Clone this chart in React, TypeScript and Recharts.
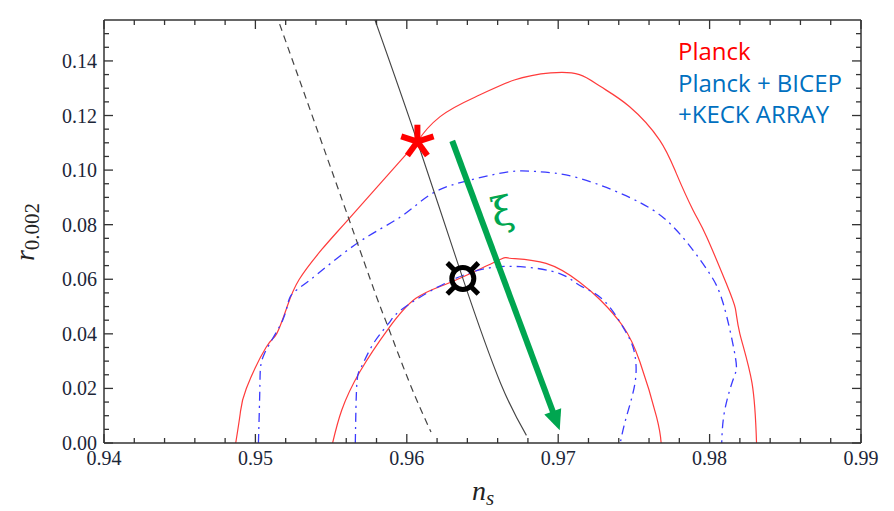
import React from "react";
import { ComposedChart, Line, XAxis, YAxis, ReferenceLine, ReferenceDot } from "recharts";

// contour points as [n_s, r]
const planck95 = [
  [0.9487, 0], [0.949, 0.0109], [0.9494, 0.02], [0.9507, 0.035], [0.9514, 0.04], [0.9521, 0.05],
  [0.9529, 0.06], [0.9544, 0.071], [0.9561, 0.0817], [0.96, 0.106], [0.9607, 0.1104],
  [0.9622, 0.1196], [0.9648, 0.1275], [0.9671, 0.133], [0.9695, 0.1356], [0.9714, 0.135], [0.9728, 0.1306],
  [0.9747, 0.1233], [0.9767, 0.111], [0.9778, 0.0988], [0.9789, 0.0854], [0.9798, 0.0756], [0.9811, 0.0585],
  [0.9817, 0.0493], [0.982, 0.04], [0.9828, 0.022], [0.9831, 0],
];
const planck68 = [
  [0.9551, 0], [0.9557, 0.012], [0.9569, 0.0261], [0.9588, 0.042], [0.9606, 0.053], [0.9625, 0.058],
  [0.9642, 0.0621], [0.9662, 0.0673], [0.9668, 0.0677], [0.9692, 0.0658], [0.9714, 0.059], [0.9728, 0.0523],
  [0.9743, 0.0426], [0.9754, 0.0297], [0.9765, 0.0095], [0.9768, 0],
];
const bkp95 = [
  [0.9502, 0], [0.9503, 0.0218], [0.9506, 0.0328], [0.9518, 0.045], [0.9523, 0.0536], [0.9536, 0.0597],
  [0.9567, 0.0731], [0.9596, 0.0829], [0.9617, 0.0915], [0.9642, 0.0964], [0.9668, 0.0994], [0.9685, 0.0995],
  [0.9714, 0.097], [0.9755, 0.0878], [0.9776, 0.0792], [0.9789, 0.0707], [0.98, 0.0621], [0.9809, 0.0511],
  [0.9817, 0.0315], [0.9816, 0.024], [0.981, 0.012], [0.9808, 0],
];
const bkp68 = [
  [0.9566, 0], [0.9567, 0.0218], [0.957, 0.0279], [0.9578, 0.0365], [0.9588, 0.0438], [0.9596, 0.0487],
  [0.962, 0.057], [0.9648, 0.0634], [0.9675, 0.0646], [0.9701, 0.0621], [0.9714, 0.0578], [0.973, 0.0523],
  [0.9744, 0.0413], [0.975, 0.034], [0.9751, 0.023], [0.9745, 0.0095], [0.9741, 0],
];
const modelDashed = [
  [0.9516, 0.1535], [0.9562, 0.0817], [0.958, 0.0536], [0.9588, 0.042], [0.9602, 0.0218], [0.9616, 0.004],
];
const modelSolid = [
  [0.9579, 0.155], [0.9607, 0.1104], [0.9637, 0.0603], [0.9662, 0.0218], [0.9679, 0.0028],
];

const arrowFrom = [0.963, 0.1107];
const arrowTo = [0.9701, 0.0047];
const starPoint = [0.9607, 0.1104];
const circlePoint = [0.9637, 0.0603];
const xiPoint = [0.96635, 0.0835];

const xDomain = [0.94, 0.99];
const yDomain = [0, 0.155];
const xMajorTicks = [0.94, 0.95, 0.96, 0.97, 0.98, 0.99];
const yMajorTicks = [0, 0.02, 0.04, 0.06, 0.08, 0.1, 0.12, 0.14];
const xTicks = Array.from({ length: 26 }, (_, i) => +(0.94 + i * 0.002).toFixed(3));
const yTicks = Array.from({ length: 31 }, (_, i) => +(i * 0.005).toFixed(3));

const legendLines = [
  { text: "Planck", color: "#ff0000" },
  { text: "Planck + BICEP", color: "#0070c0" },
  { text: "+KECK ARRAY", color: "#0070c0" },
];

const toPts = (a: number[][]) => a.map(([x, r]) => ({ x, r }));

const AXIS = "#333";
const LABEL = "#1c2638";
const labelFont = "'Liberation Serif', 'Times New Roman', serif";

const isXMajor = (v: number) => xMajorTicks.some((m) => Math.abs(m - v) < 1e-6);
const isYMajor = (v: number) => yMajorTicks.some((m) => Math.abs(m - v) < 1e-6);

const BottomTick = ({ x, y, payload }: any) => {
  const major = isXMajor(payload.value);
  return (
    <g>
      <line x1={x} y1={y} x2={x} y2={y - (major ? 9 : 5)} stroke={AXIS} strokeWidth={1.3} />
      {major && (
        <text x={x} y={y + 22} textAnchor="middle" fontSize={20} fontFamily={labelFont} fill={LABEL}>
          {payload.value.toFixed(2)}
        </text>
      )}
    </g>
  );
};
const TopTick = ({ x, y, payload }: any) => {
  const major = isXMajor(payload.value);
  return <line x1={x} y1={y} x2={x} y2={y + (major ? 9 : 5)} stroke={AXIS} strokeWidth={1.3} />;
};
const LeftTick = ({ x, y, payload }: any) => {
  const major = isYMajor(payload.value);
  return (
    <g>
      <line x1={x} y1={y} x2={x + (major ? 9 : 5)} y2={y} stroke={AXIS} strokeWidth={1.3} />
      {major && (
        <text x={x - 7} y={y + 7} textAnchor="end" fontSize={20} fontFamily={labelFont} fill={LABEL}>
          {payload.value.toFixed(2)}
        </text>
      )}
    </g>
  );
};
const RightTick = ({ x, y, payload }: any) => {
  const major = isYMajor(payload.value);
  return <line x1={x} y1={y} x2={x - (major ? 9 : 5)} y2={y} stroke={AXIS} strokeWidth={1.3} />;
};

const Arrow = ({ x1, y1, x2, y2 }: any) => {
  const dx = x2 - x1;
  const dy = y2 - y1;
  const len = Math.hypot(dx, dy);
  const ux = dx / len;
  const uy = dy / len;
  const head = 20;
  const half = 9;
  const bx = x2 - ux * head;
  const by = y2 - uy * head;
  return (
    <g>
      <line x1={x1} y1={y1} x2={bx + ux * 2} y2={by + uy * 2} stroke="#00a650" strokeWidth={6} />
      <polygon
        points={`${x2},${y2} ${bx - uy * half},${by + ux * half} ${bx + uy * half},${by - ux * half}`}
        fill="#00a650"
      />
    </g>
  );
};

const Star = ({ cx, cy }: any) => (
  <g>
    {[0, 72, 144, 216, 288].map((a) => {
      const t = (a * Math.PI) / 180;
      return (
        <line key={a} x1={cx} y1={cy} x2={cx + 17 * Math.sin(t)} y2={cy - 17 * Math.cos(t)} stroke="#ff0000" strokeWidth={6} />
      );
    })}
  </g>
);

const Currency = ({ cx, cy }: any) => (
  <g>
    <circle cx={cx} cy={cy} r={11} fill="none" stroke="#000" strokeWidth={5} />
    {[45, 135, 225, 315].map((a) => {
      const t = (a * Math.PI) / 180;
      return (
        <line
          key={a}
          x1={cx + 12 * Math.cos(t)}
          y1={cy + 12 * Math.sin(t)}
          x2={cx + 22 * Math.cos(t)}
          y2={cy + 22 * Math.sin(t)}
          stroke="#000"
          strokeWidth={5}
        />
      );
    })}
  </g>
);

const Xi = ({ cx, cy }: any) => (
  <text
    x={cx}
    y={cy + 10}
    textAnchor="middle"
    fontSize={40}
    fontFamily="'DejaVu Serif', serif"
    fill="#00a650"
    transform={`rotate(-12 ${cx} ${cy})`}
  >
    ξ
  </text>
);

const axisLine = { stroke: AXIS, strokeWidth: 1.5 };

export default function App() {
  return (
    <div style={{ position: "absolute", left: 0, top: 0, width: 894, height: 511, background: "#fff" }}>
      <ComposedChart width={894} height={511} margin={{ top: 19, right: 32, bottom: 67, left: 103 }}>
        <XAxis xAxisId="b" dataKey="x" type="number" domain={xDomain} ticks={xTicks} interval={0}
          tick={(p: any) => <BottomTick {...p} />} tickSize={0} tickMargin={0} height={1} axisLine={axisLine} allowDataOverflow />
        <XAxis xAxisId="t" orientation="top" dataKey="x" type="number" domain={xDomain} ticks={xTicks} interval={0}
          tick={(p: any) => <TopTick {...p} />} tickSize={0} tickMargin={0} height={1} axisLine={axisLine} allowDataOverflow />
        <YAxis yAxisId="l" dataKey="r" type="number" domain={yDomain} ticks={yTicks} interval={0}
          tick={(p: any) => <LeftTick {...p} />} tickSize={0} tickMargin={0} width={1} axisLine={axisLine} allowDataOverflow />
        <YAxis yAxisId="rt" orientation="right" dataKey="r" type="number" domain={yDomain} ticks={yTicks} interval={0}
          tick={(p: any) => <RightTick {...p} />} tickSize={0} tickMargin={0} width={1} axisLine={axisLine} allowDataOverflow />

        <Line xAxisId="b" yAxisId="l" data={toPts(planck95)} dataKey="r" type="natural" stroke="#ff3b3b" strokeWidth={1.2} dot={false} isAnimationActive={false} />
        <Line xAxisId="b" yAxisId="l" data={toPts(planck68)} dataKey="r" type="natural" stroke="#ff3b3b" strokeWidth={1.2} dot={false} isAnimationActive={false} />
        <Line xAxisId="b" yAxisId="l" data={toPts(bkp95)} dataKey="r" type="natural" stroke="#3a3aff" strokeWidth={1.3} strokeDasharray="9 5 2 5" dot={false} isAnimationActive={false} />
        <Line xAxisId="b" yAxisId="l" data={toPts(bkp68)} dataKey="r" type="natural" stroke="#3a3aff" strokeWidth={1.3} strokeDasharray="9 5 2 5" dot={false} isAnimationActive={false} />
        <Line xAxisId="b" yAxisId="l" data={toPts(modelDashed)} dataKey="r" type="natural" stroke="#444" strokeWidth={1.2} strokeDasharray="7 5" dot={false} isAnimationActive={false} />
        <Line xAxisId="b" yAxisId="l" data={toPts(modelSolid)} dataKey="r" type="natural" stroke="#444" strokeWidth={1.1} dot={false} isAnimationActive={false} />

        <ReferenceLine xAxisId="b" yAxisId="l"
          segment={[{ x: arrowFrom[0], y: arrowFrom[1] }, { x: arrowTo[0], y: arrowTo[1] }]}
          shape={(p: any) => <Arrow {...p} />} />
        <ReferenceDot xAxisId="b" yAxisId="l" x={starPoint[0]} y={starPoint[1]} shape={(p: any) => <Star {...p} />} />
        <ReferenceDot xAxisId="b" yAxisId="l" x={circlePoint[0]} y={circlePoint[1]} shape={(p: any) => <Currency {...p} />} />
        <ReferenceDot xAxisId="b" yAxisId="l" x={xiPoint[0]} y={xiPoint[1]} shape={(p: any) => <Xi {...p} />} />
      </ComposedChart>

      <svg width={894} height={511} style={{ position: "absolute", left: 0, top: 0, pointerEvents: "none" }}>
        {legendLines.map((l, i) => (
          <text key={l.text} x={678} y={60 + i * 31.5} fontSize={24} fontFamily="'Open Sans', sans-serif" fill={l.color}>
            {l.text}
          </text>
        ))}
        <text x={483} y={500} textAnchor="middle" fontFamily={labelFont} fill="#222">
          <tspan fontSize={28} fontStyle="italic">n</tspan>
          <tspan fontSize={21} fontStyle="italic" dy={5}>s</tspan>
        </text>
        <text transform="translate(34 232) rotate(-90)" textAnchor="middle" fontFamily={labelFont} fill="#222">
          <tspan fontSize={28} fontStyle="italic">r</tspan>
          <tspan fontSize={21} dy={5}>0.002</tspan>
        </text>
      </svg>
    </div>
  );
}
